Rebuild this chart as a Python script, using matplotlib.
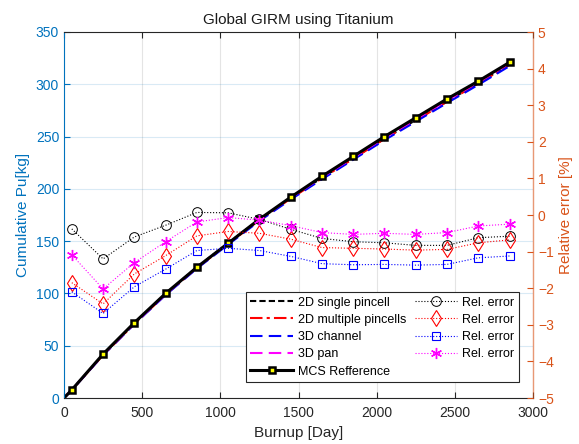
import matplotlib
matplotlib.use("Agg")
import matplotlib.pyplot as plt

plt.rcParams['font.family'] = ['Liberation Sans', 'DejaVu Sans']

burnup_lines = [0, 50, 250, 450, 650, 850, 1050, 1250, 1450, 1650, 1850, 2050, 2250, 2450, 2650, 2850]
burnup_err = [50, 250, 450, 650, 850, 1050, 1250, 1450, 1650, 1850, 2050, 2250, 2450, 2650, 2850]

mcs_ref = [0, 7.8, 42, 72, 100, 125, 148, 171, 192, 212, 231, 250, 268, 286, 303, 321]
pu_2d_single = [0, 7.8, 41.5, 71.6, 99.7, 125.1, 148.1, 170.8, 191.3, 210.6, 229.3, 248.1, 265.8, 283.6, 301.1, 319.1]
pu_2d_multi = [0, 7.7, 41.0, 70.8, 98.9, 124.3, 147.3, 170.1, 190.7, 210.1, 228.9, 247.7, 265.4, 283.3, 300.7, 318.8]
pu_3d_channel = [0, 7.6, 40.9, 70.6, 98.5, 123.8, 146.7, 169.3, 189.8, 209.2, 227.9, 246.6, 264.3, 282.1, 299.5, 317.4]
pu_3d_pan = [0, 7.7, 41.2, 71.1, 99.3, 124.8, 147.9, 170.8, 191.4, 211.0, 229.8, 248.8, 266.6, 284.6, 302.1, 320.2]

err_2d_single = [-0.38, -1.20, -0.60, -0.28, 0.07, 0.06, -0.12, -0.39, -0.64, -0.73, -0.76, -0.83, -0.83, -0.62, -0.58]
err_2d_multi = [-1.85, -2.43, -1.61, -1.11, -0.57, -0.45, -0.50, -0.66, -0.89, -0.91, -0.93, -0.96, -0.94, -0.76, -0.68]
err_3d_channel = [-2.10, -2.69, -1.96, -1.48, -0.97, -0.91, -0.97, -1.13, -1.33, -1.36, -1.35, -1.37, -1.35, -1.17, -1.12]
err_3d_pan = [-1.09, -2.02, -1.30, -0.73, -0.19, -0.07, -0.14, -0.29, -0.48, -0.53, -0.50, -0.53, -0.48, -0.30, -0.25]

line_labels = ['2D single pincell', '2D multiple pincells', '3D channel', '3D pan', 'MCS Refference']
err_label = 'Rel. error'

BLUE = (0.0, 0.447, 0.741)
ORANGE = (0.85, 0.325, 0.098)
MAG = (1.0, 0.0, 1.0)
DARK = (0.15, 0.15, 0.15)

fig = plt.figure(figsize=(5.79, 4.44), dpi=100)
ax = fig.add_axes([64/579, 1-398/444, (533-64)/579, (398-32)/444])
ax2 = ax.twinx()

h1, = ax.plot(burnup_lines, pu_2d_single, color='k', ls=(0, (3, 1.5)), lw=1.5, label=line_labels[0])
h2, = ax.plot(burnup_lines, pu_2d_multi, color='r', ls=(0, (6, 2, 1.5, 2)), lw=1.5, label=line_labels[1])
h3, = ax.plot(burnup_lines, pu_3d_channel, color='b', ls=(0, (6, 3)), lw=1.5, label=line_labels[2])
h4, = ax.plot(burnup_lines, pu_3d_pan, color=MAG, ls=(0, (6, 3)), lw=1.5, label=line_labels[3])
h5, = ax.plot(burnup_lines, mcs_ref, color='k', ls='-', lw=2.2, marker='s', ms=5,
              mfc='yellow', mec='k', mew=1.8, markevery=list(range(1, len(burnup_lines))),
              label=line_labels[4])

ast = (6, 2, 0)
e1, = ax2.plot(burnup_err, err_2d_single, color='k', ls=':', lw=0.8, marker='o', ms=7, mfc='none', mec='k', mew=0.7, label=err_label)
e2, = ax2.plot(burnup_err, err_2d_multi, color='r', ls=':', lw=0.8, marker='d', ms=8, mfc='none', mec='r', mew=0.8, label=err_label)
e3, = ax2.plot(burnup_err, err_3d_channel, color='b', ls=':', lw=0.8, marker='s', ms=6, mfc='none', mec='b', mew=0.8, label=err_label)
e4, = ax2.plot(burnup_err, err_3d_pan, color=MAG, ls=':', lw=0.8, marker=ast, ms=8, mfc='none', mec=MAG, mew=1.0, label=err_label)

ax.set_xlim(0, 3000)
ax.set_ylim(0, 350)
ax2.set_ylim(-5, 5)
ax.set_xticks(range(0, 3001, 500))
ax.set_yticks(range(0, 351, 50))
ax2.set_yticks(range(-5, 6, 1))

ax.grid(True, axis='x', color=DARK, alpha=0.12, lw=0.8)
ax.grid(True, axis='y', color=BLUE, alpha=0.15, lw=0.8)

ax.tick_params(axis='x', direction='in', top=True, colors=DARK, labelsize=10, length=4, pad=6)
ax.tick_params(axis='y', direction='in', colors=BLUE, labelsize=10, length=4)
ax2.tick_params(axis='y', direction='in', colors=ORANGE, labelsize=10, length=4)

for s in ['top', 'bottom']:
    ax.spines[s].set_color(DARK)
    ax2.spines[s].set_visible(False)
ax.spines['left'].set_color(BLUE)
ax2.spines['left'].set_visible(False)
ax2.spines['right'].set_color(ORANGE)
ax2.spines['right'].set_alpha(0.6)
ax.spines['right'].set_visible(False)
for s in ax.spines.values():
    s.set_linewidth(0.8)
ax2.spines['right'].set_linewidth(1.0)

ax.set_xlabel('Burnup [Day]', fontsize=11, color=DARK)
ax.set_ylabel('Cumulative Pu[kg]', fontsize=11, color=BLUE)
ax2.set_ylabel('Relative error [%]', fontsize=11, color=ORANGE)
ax.set_title('Global GIRM using Titanium', fontsize=11, color=(0.1, 0.1, 0.1))

leg = ax2.legend([h1, h2, h3, h4, h5, e1, e2, e3, e4],
                 line_labels + [err_label] * 4,
                 ncol=2, loc='lower right', bbox_to_anchor=(0.97, 0.044), borderaxespad=0,
                 fontsize=9, handlelength=3.4, columnspacing=0.7, handletextpad=0.4,
                 labelspacing=0.42, borderpad=0.35, fancybox=False, framealpha=1,
                 edgecolor=DARK)
leg.get_frame().set_linewidth(0.8)

fig.savefig('out.png', dpi=100)
